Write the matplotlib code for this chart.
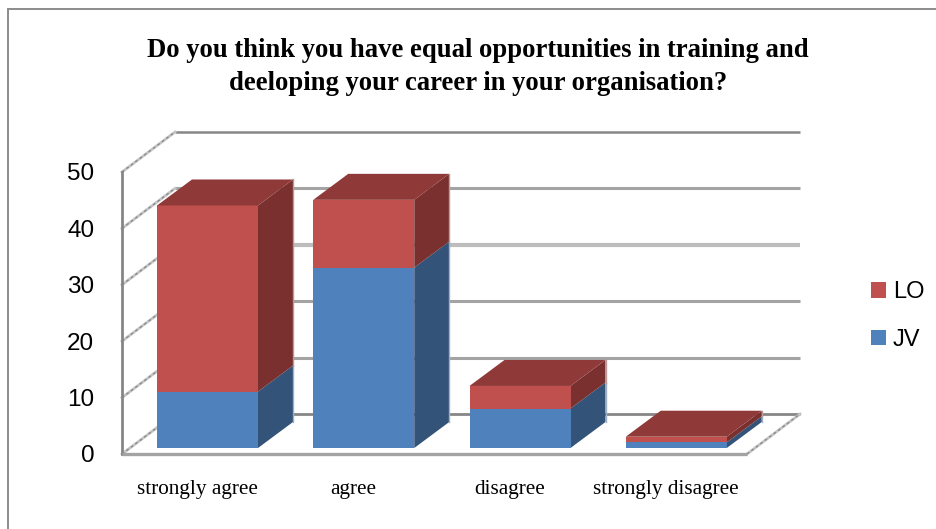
import matplotlib
matplotlib.use('Agg')
import matplotlib.pyplot as plt
from matplotlib.lines import Line2D
from matplotlib.patches import Patch

categories = ['strongly agree', 'agree', 'disagree', 'strongly disagree']
jv = [10, 32, 7, 1]
lo = [33, 12, 4, 1]
y_ticks = [0, 10, 20, 30, 40, 50]
title = 'Do you think you have equal opportunities in training and\ndeeloping your career in your organisation?'

W, H = 936, 529
X0, X1, Y0, Y1 = 122, 747, 454, 172  # front plane of the fake 3d box, in pixels

fig = plt.figure(figsize=(W / 100, H / 100), dpi=100, facecolor='white')
ax = fig.add_axes([X0 / W, 1 - Y0 / H, (X1 - X0) / W, (Y0 - Y1) / H])
ax.set_xlim(0, 4)
ax.set_ylim(0, 50)
for s in ax.spines.values():
    s.set_visible(False)
ax.patch.set_alpha(0)

# pixels -> data units
ux = (X1 - X0) / 4
uy = (Y0 - Y1) / 50
wall_dx, wall_dy = 53 / ux, 40 / uy
bar_dx, bar_dy = 35 / ux, 26 / uy
bar_w = 101 / ux
bar_x0 = 35 / ux
bar_y0 = 6 / uy

# back wall grid lines and the diagonals on the left side wall
grid_colors = ['#868686', '#a3a3a3', '#a3a3a3', '#bdbdbd', '#a3a3a3', '#868686']
grid_widths = [2.0, 2.2, 2.2, 3.0, 2.2, 1.8]
for v, c, lw in zip(y_ticks, grid_colors, grid_widths):
    ax.plot([wall_dx, 4 + wall_dx], [v + wall_dy, v + wall_dy], color=c, lw=lw, clip_on=False,
            solid_capstyle='butt', zorder=1)
    ax.plot([0, wall_dx], [v, v + wall_dy], color='#c4c4c4', lw=2.0, clip_on=False, zorder=1)
    ax.plot([0, wall_dx], [v, v + wall_dy], color='#8c8c8c', lw=1.0, ls=(0, (2, 2)), clip_on=False, zorder=1)
# right side of the floor
ax.plot([4, 4 + wall_dx], [0, wall_dy], color='#c4c4c4', lw=2.0, clip_on=False, zorder=1)
ax.plot([4, 4 + wall_dx], [0, wall_dy], color='#8c8c8c', lw=1.0, ls=(0, (2, 2)), clip_on=False, zorder=1)

# front axis lines
ax.plot([0, 0], [0, 50], color='#868686', lw=2.0, clip_on=False, zorder=2)
ax.plot([0, 4], [0, 0], color='#a3a3a3', lw=2.4, clip_on=False, solid_capstyle='butt', zorder=2)


def draw_segment(x, bottom, top, front, side, z):
    r = x + bar_w
    ax.fill([r, r + bar_dx, r + bar_dx, r],
            [bottom, bottom + bar_dy, top + bar_dy, top], color=side, lw=0, clip_on=False, zorder=z)
    ax.fill([x, r, r, x], [bottom, bottom, top, top], color=front, lw=0, clip_on=False, zorder=z + 0.1)


for i in range(len(categories)):
    x = i + bar_x0
    z = 3 + i
    b = bar_y0
    m = b + jv[i]
    t = m + lo[i]
    draw_segment(x, b, m, '#4f81bd', '#335379', z)
    draw_segment(x, m, t, '#c0504d', '#7a302e', z + 0.2)
    r = x + bar_w
    ax.fill([x, r, r + bar_dx, x + bar_dx], [t, t, t + bar_dy, t + bar_dy],
            color='#8f3a38', lw=0, clip_on=False, zorder=z + 0.4)
    # pale edge on the back of each bar
    ax.plot([r + bar_dx, r + bar_dx], [b + bar_dy, m + bar_dy], color='#9fb0c6', lw=1.0, clip_on=False, zorder=z + 0.5)
    ax.plot([r + bar_dx, r + bar_dx], [m + bar_dy, t + bar_dy], color='#bc9a99', lw=1.0, clip_on=False, zorder=z + 0.5)

ax.set_yticks(y_ticks)
ax.set_yticklabels([str(v) for v in y_ticks], fontfamily='Liberation Sans', fontsize=17.5)
ax.set_xticks([i + 0.48 for i in range(len(categories))])
ax.set_xticklabels(categories, fontfamily='Liberation Serif', fontsize=15.3)
ax.tick_params(axis='y', length=0, pad=20)
ax.tick_params(axis='x', length=0, pad=18.5)

fig.text(478 / W, 1 - 67 / H, title, ha='center', va='center', fontfamily='Liberation Serif',
         fontweight='bold', fontsize=19.2, linespacing=1.44)

handles = [Patch(color='#c0504d', lw=0), Patch(color='#4f81bd', lw=0)]
fig.legend(handles, ['LO', 'JV'], loc='center left', bbox_to_anchor=(871 / W, 1 - 316 / H), frameon=False,
           prop={'family': 'Liberation Sans', 'size': 17}, handlelength=0.635, handleheight=0.635,
           handletextpad=0.3, labelspacing=1.08, borderpad=0, borderaxespad=0)

# outer chart frame, only the left and top edges show
fig.add_artist(Line2D([8 / W, 8 / W], [0, 1 - 9 / H], color='#8c8c8c', lw=1.4))
fig.add_artist(Line2D([8 / W, 1], [1 - 9 / H, 1 - 9 / H], color='#8c8c8c', lw=1.4))

fig.savefig('out.png', dpi=100)
